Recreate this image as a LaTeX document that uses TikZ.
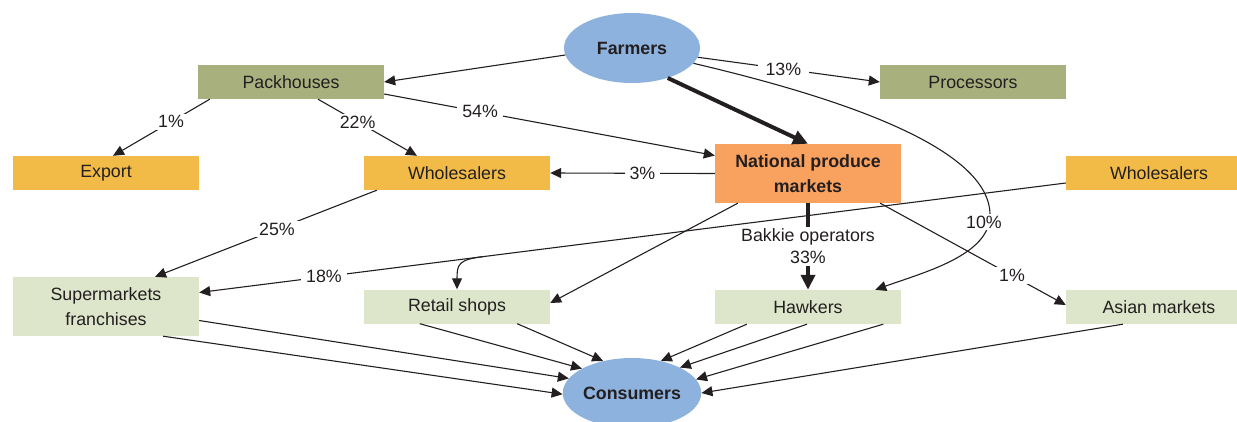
\documentclass[tikz,border=0pt]{standalone}
\usepackage{fontspec}
\setmainfont{Liberation Sans}
\usetikzlibrary{arrows.meta,shapes.geometric,calc}
\definecolor{txt}{HTML}{231F20}
\definecolor{blu}{RGB}{141,178,221}
\definecolor{oli}{RGB}{168,177,126}
\definecolor{yel}{RGB}{242,187,72}
\definecolor{ora}{RGB}{249,161,95}
\definecolor{lgr}{RGB}{221,230,203}
\begin{document}
\begin{tikzpicture}[x=1pt,y=-1pt,
 box/.style={rectangle, minimum width=186pt, minimum height=34pt, inner sep=0pt, text=txt, font=\fontsize{17.8}{25}\selectfont, align=center},
 tallbox/.style={box, minimum height=59pt},
 ell/.style={ellipse, fill=blu, minimum width=136pt, minimum height=70pt, inner sep=0pt, text=txt, font=\fontsize{17.8}{21}\selectfont\bfseries},
 conn/.style={draw=txt, line width=1.1pt, -{Triangle[length=11pt,width=10pt]}},
 heavy/.style={draw=txt, line width=4pt, -{Triangle[length=15pt,width=14pt]}},
 lbl/.style={fill=white, inner xsep=5pt, inner ysep=2pt, text=txt, font=\fontsize{17.8}{22}\selectfont, align=center},
]
\useasboundingbox (0,0) rectangle (1237,421);
% nodes
\node[ell] (farm) at (632,48) {Farmers};
\node[ell] (cons) at (632,393) {Consumers};
\node[box, fill=oli] (pack) at (291,82) {Packhouses};
\node[box, fill=oli] (proc) at (973,82) {Processors};
\node[box, fill=yel] (exp) at (106,173) {Export};
\node[box, fill=yel] (wh1) at (457,173) {Wholesalers};
\node[box, fill=yel] (wh2) at (1159,173) {Wholesalers};
\node[tallbox, fill=ora, font=\fontsize{17.8}{25}\selectfont\bfseries] (npm) at (808,173.5) {National produce\\markets};
\node[tallbox, fill=lgr] (sm) at (106,306.5) {Supermarkets\\franchises};
\node[box, fill=lgr] (rs) at (457,306.5) {Retail shops};
\node[box, fill=lgr] (hawk) at (808,307) {Hawkers};
\node[box, fill=lgr] (asia) at (1159,307) {Asian markets};
% connectors from farmers
\draw[conn] (farm.186) -- (pack.east);
\draw[conn] (farm.-8) -- node[lbl, pos=0.47, inner xsep=8pt] {13\%} (proc.west);
\draw[heavy] (farm.-40) -- (npm.north);
\draw[conn] (farm.-14) .. controls (850,100) and (990,150) .. (990,215)
  .. controls (990,255) and (925,272) .. ($(hawk.north east)+(-26,0)$);
\node[lbl] (l10) at (984,222) {10\%};
% packhouses
\draw[conn] ($(pack.south west)+(12,0)$) -- node[lbl, pos=0.4] {1\%} ($(exp.north)+(7,0)$);
\draw[conn] ($(pack.south)+(27,0)$) -- node[lbl, pos=0.4] {22\%} ($(wh1.north)+(-40,0)$);
\draw[conn] ($(pack.east)+(0,12)$) -- node[lbl, pos=0.29] {54\%} ($(npm.west)+(0,-18)$);
% national produce markets
\draw[conn] (npm.west) -- node[lbl, pos=0.44] {3\%} (wh1.east);
\draw[conn] ($(wh1.south west)+(13,0)$) -- node[lbl, pos=0.45] {25\%} ($(sm.north)+(49,0)$);
\draw[conn] ($(wh2.west)+(0,10)$) -- coordinate[pos=0.672] (br) node[lbl, pos=0.856] {18\%} ($(sm.east)+(0,-14)$);
\draw[conn] (br) .. controls ($(br)+(-25,3)$) and ($(rs.north)+(0,-25)$) .. (rs.north);
\draw[conn] ($(npm.south west)+(23,0)$) -- ($(rs.east)+(0,-3.5)$);
\draw[conn] ($(npm.south east)+(-21,0)$) -- node[lbl, pos=0.71] {1\%} ($(asia.west)+(0,-2)$);
\draw[heavy] (npm.south) -- node[lbl, pos=0.5] {Bakkie operators\\33\%} (hawk.north);
% to consumers
\draw[conn] ($(sm.east)+(0,14)$) -- (cons.167);
\draw[conn] ($(sm.south east)+(-36,0)$) -- (cons.181);
\draw[conn] ($(rs.south west)+(56,0)$) -- (cons.154);
\draw[conn] ($(rs.south east)+(-33,0)$) -- (cons.132);
\draw[conn] ($(hawk.south west)+(32,0)$) -- (cons.48);
\draw[conn] ($(hawk.south)+(-1,0)$) -- (cons.28);
\draw[conn] ($(hawk.south east)+(-18,0)$) -- (cons.12);
\draw[conn] ($(asia.south west)+(57,0)$) -- (cons.east);
\end{tikzpicture}
\end{document}
